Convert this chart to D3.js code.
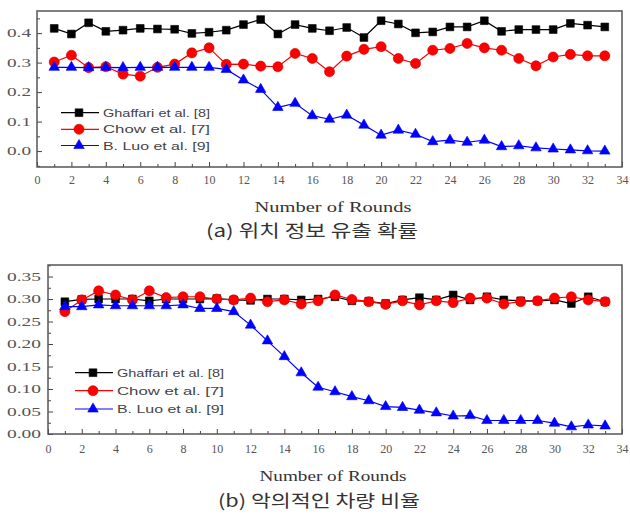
<!DOCTYPE html>
<html><head><meta charset="utf-8">
<script src="https://cdn.jsdelivr.net/npm/d3@7"></script>
<style>body{margin:0;background:#fff}svg{display:block}</style>
</head><body>
<svg id="c" width="630" height="518"></svg>
<script>
const rounds = [1,2,3,4,5,6,7,8,9,10,11,12,13,14,15,16,17,18,19,20,21,22,23,24,25,26,27,28,29,30,31,32,33];
const seriesNames = ["Ghaffari et al. [8]", "Chow et al. [7]", "B. Luo et al. [9]"];
const xTickLabels = [0,2,4,6,8,10,12,14,16,18,20,22,24,26,28,30,32,34];
const yTicksA = [0.0,0.1,0.2,0.3,0.4];
const yTicksB = [0.00,0.05,0.10,0.15,0.20,0.25,0.30,0.35];
const xTitle = "Number of Rounds";
const captionA = "(a) 위치 정보 유출 확률";
const captionB = "(b) 악의적인 차량 비율";

const aGhaffari = [0.416,0.397,0.435,0.406,0.41,0.416,0.414,0.413,0.399,0.403,0.41,0.429,0.446,0.397,0.429,0.416,0.408,0.419,0.385,0.442,0.431,0.401,0.404,0.421,0.421,0.442,0.406,0.412,0.412,0.412,0.433,0.427,0.421];
const aChow = [0.302,0.325,0.283,0.286,0.261,0.254,0.284,0.295,0.333,0.35,0.294,0.295,0.288,0.286,0.331,0.314,0.269,0.322,0.345,0.354,0.314,0.297,0.342,0.348,0.365,0.35,0.342,0.314,0.289,0.319,0.328,0.323,0.323];
const aLuo = [0.284,0.284,0.283,0.284,0.283,0.284,0.284,0.284,0.284,0.284,0.277,0.241,0.209,0.148,0.162,0.12,0.108,0.122,0.088,0.054,0.071,0.057,0.032,0.037,0.03,0.037,0.015,0.018,0.011,0.007,0.004,0.001,0.0];

const bGhaffari = [0.294,0.299,0.30,0.30,0.30,0.296,0.30,0.30,0.30,0.301,0.298,0.297,0.30,0.30,0.298,0.30,0.305,0.296,0.295,0.29,0.298,0.303,0.298,0.309,0.298,0.305,0.298,0.296,0.296,0.298,0.29,0.305,0.294];
const bChow = [0.272,0.298,0.318,0.309,0.298,0.318,0.303,0.305,0.305,0.30,0.298,0.302,0.294,0.298,0.289,0.296,0.309,0.299,0.294,0.288,0.296,0.287,0.296,0.292,0.302,0.302,0.289,0.294,0.296,0.302,0.305,0.298,0.294];
const bLuo = [0.283,0.283,0.287,0.285,0.285,0.285,0.285,0.287,0.279,0.279,0.272,0.242,0.207,0.172,0.136,0.104,0.094,0.083,0.074,0.061,0.059,0.053,0.047,0.040,0.041,0.030,0.030,0.030,0.030,0.024,0.016,0.020,0.018];

const colors = ["#000000", "#ff0000", "#0000ff"];
const symbols = [d3.symbolSquare, d3.symbolCircle, d3.symbolTriangle];
const symSizes = [60, 80, 48];

const svg = d3.select("#c");
svg.append("rect").attr("width",630).attr("height",518).attr("fill","#fff");

function fitText(sel, w) {
  sel.attr("textLength", w).attr("lengthAdjust", "spacingAndGlyphs");
}

function panel(cfg) {
  const g = svg.append("g");
  const x = d3.scaleLinear().domain([0,34]).range([cfg.left, cfg.right]);
  const y = d3.scaleLinear().domain(cfg.ydom).range([cfg.bottom, cfg.top]);

  const xMinor = rounds.filter(r => r % 2 === 1);
  g.append("g").attr("transform",`translate(0,${cfg.bottom})`)
    .call(d3.axisBottom(x).tickValues(xMinor).tickSize(-3).tickFormat(""))
    .call(s => s.select(".domain").remove())
    .selectAll("line").attr("stroke","#444");
  g.append("g").attr("transform",`translate(${cfg.left},0)`)
    .call(d3.axisLeft(y).tickValues(cfg.yMinor).tickSize(-3).tickFormat(""))
    .call(s => s.select(".domain").remove())
    .selectAll("line").attr("stroke","#444");

  const xa = g.append("g").attr("transform",`translate(0,${cfg.bottom})`)
    .call(d3.axisBottom(x).tickValues(xTickLabels).tickSize(-5).tickPadding(cfg.xpad).tickFormat(d3.format("d")));
  xa.select(".domain").remove();
  xa.selectAll("line").attr("stroke","#444");
  xa.selectAll("text").attr("font-family","'Liberation Serif', serif").attr("font-size",12).attr("fill","#555");

  const ya = g.append("g").attr("transform",`translate(${cfg.left},0)`)
    .call(d3.axisLeft(y).tickValues(cfg.yTicks).tickSize(-5).tickPadding(cfg.ypad).tickFormat(d3.format(cfg.yfmt)));
  ya.select(".domain").remove();
  ya.selectAll("line").attr("stroke","#444");
  ya.selectAll("text").attr("font-family","'Liberation Serif', serif").attr("font-size",12).attr("fill","#555")
    .call(fitText, cfg.ylabW);

  g.append("rect").attr("x",cfg.left).attr("y",cfg.top)
    .attr("width",cfg.right-cfg.left).attr("height",cfg.bottom-cfg.top)
    .attr("fill","none").attr("stroke","#555").attr("stroke-width",1.5);

  const line = d3.line().x((d,i)=>x(rounds[i])).y(d=>y(d));
  cfg.series.forEach((vals, k) => {
    g.append("path").datum(vals).attr("d", line)
      .attr("fill","none").attr("stroke",colors[k]).attr("stroke-width",1.2);
    g.append("g").selectAll("path").data(vals).join("path")
      .attr("transform",(d,i)=>`translate(${x(rounds[i])},${y(d)})`)
      .attr("d", d3.symbol().type(symbols[k]).size(symSizes[k]))
      .attr("fill", colors[k]).attr("stroke", k===1 ? "#cc0000" : colors[k]).attr("stroke-width",0.6);
  });

  const lg = g.append("g");
  seriesNames.forEach((name,k) => {
    const yy = cfg.legY[k];
    lg.append("line").attr("x1",cfg.legX).attr("x2",cfg.legX+38).attr("y1",yy).attr("y2",yy)
      .attr("stroke",colors[k]).attr("stroke-width",1.2);
    lg.append("path").attr("transform",`translate(${cfg.legX+18},${yy})`)
      .attr("d", d3.symbol().type(symbols[k]).size(symSizes[k]))
      .attr("fill",colors[k]).attr("stroke", k===1 ? "#cc0000" : colors[k]).attr("stroke-width",0.6);
    lg.append("text").attr("x",cfg.legX+42).attr("y",yy+4)
      .attr("font-family","'Liberation Sans', Arial, sans-serif").attr("font-size",11).attr("fill","#444")
      .text(name).call(fitText, 107);
  });

  g.append("text").attr("x",cfg.titleX).attr("y",cfg.titleY).attr("text-anchor","middle")
    .attr("font-family","'Liberation Serif', serif").attr("font-size",15).attr("fill","#333")
    .text(xTitle).call(fitText, cfg.titleW);
  g.append("text").attr("x",cfg.capX).attr("y",cfg.capY).attr("text-anchor","middle")
    .attr("font-family","'Noto Sans CJK KR', sans-serif").attr("font-size",17).attr("fill","#333")
    .text(cfg.caption).call(fitText, cfg.capW);
}

panel({
  left:37, right:622, top:11, bottom:167, ydom:[-0.054,0.475],
  yTicks:yTicksA, yMinor:[-0.05,0.05,0.15,0.25,0.35,0.45], yfmt:".1f", ypad:6, ylabW:24, xpad:8,
  series:[aGhaffari,aChow,aLuo],
  legX:61, legY:[112.7,129.3,145.5],
  titleX:333, titleY:212, titleW:157, caption:captionA, capX:312, capY:237, capW:212
});
panel({
  left:48, right:622, top:265, bottom:434, ydom:[0,0.3756],
  yTicks:yTicksB, yMinor:[0.025,0.075,0.125,0.175,0.225,0.275,0.325,0.375], yfmt:".2f", ypad:7, ylabW:34, xpad:10,
  series:[bGhaffari,bChow,bLuo],
  legX:75, legY:[372.7,390.7,409],
  titleX:333, titleY:481, titleW:147, caption:captionB, capX:319, capY:507, capW:202
});
</script>
</body></html>
